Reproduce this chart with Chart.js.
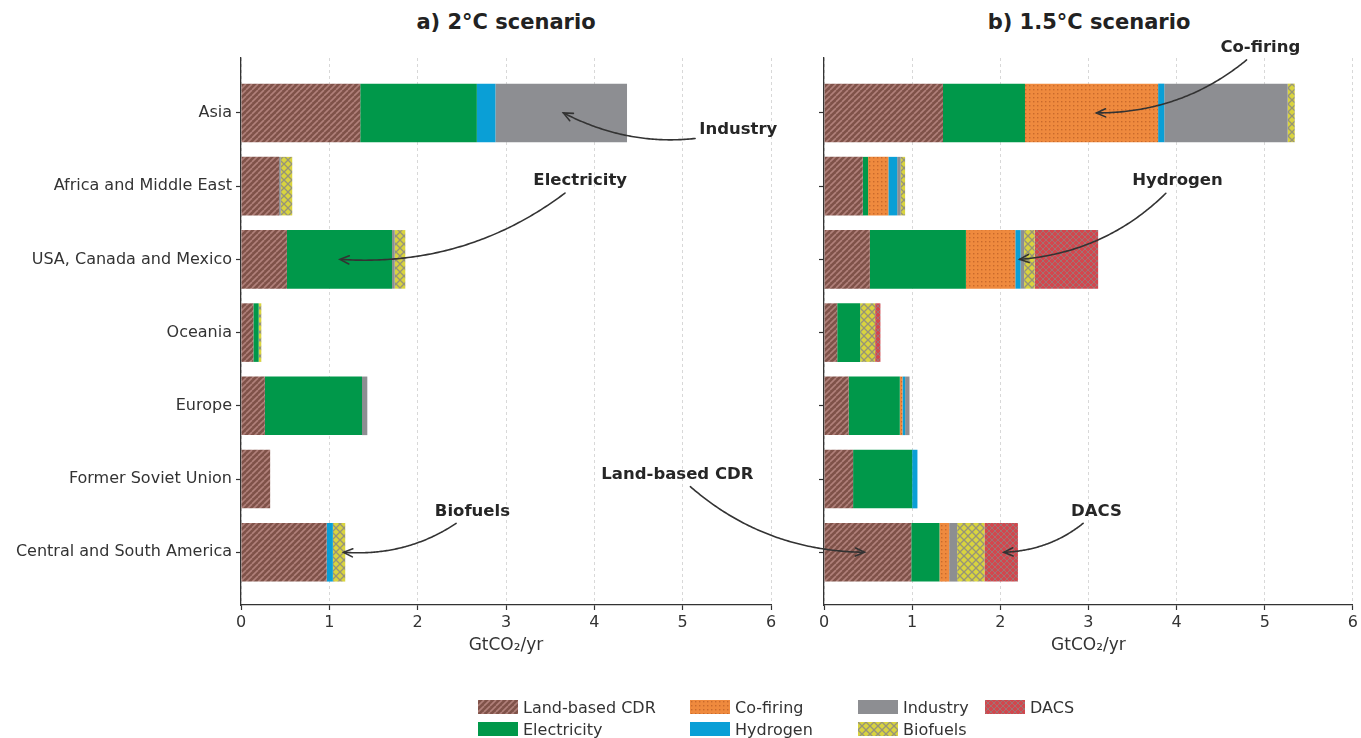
<!DOCTYPE html>
<html>
<head>
<meta charset="utf-8">
<script src="https://cdn.jsdelivr.net/npm/chart.js@4.4.1/dist/chart.umd.min.js"></script>
<style>
  html, body { margin: 0; padding: 0; background: #fff; }
  #fig { position: relative; width: 1361px; height: 738px; overflow: hidden; font-family: 'DejaVu Sans', sans-serif; background: #fff; }
  #fig > canvas { position: absolute; }
  .ptitle { position: absolute; top: 10px; line-height: 24px; font-weight: bold; font-size: 21px; color: #222; transform: translateX(-50%); white-space: nowrap; }
  #legend { position: absolute; left: 478px; top: 696px; display: grid; grid-template-columns: 212px 168px 127px auto; grid-template-rows: 22px 22px; grid-auto-flow: column; }
  .li { display: flex; align-items: center; font-size: 16px; color: #333; white-space: nowrap; }
  .li canvas { margin-right: 5px; }
</style>
</head>
<body>
<div id="fig">
  <div class="ptitle" style="left:506px">a) 2°C scenario</div>
  <div class="ptitle" style="left:1089px">b) 1.5°C scenario</div>
  <canvas id="cA" width="790" height="670" style="left:0;top:0"></canvas>
  <canvas id="cB" width="561" height="670" style="left:800px;top:0"></canvas>
  <canvas id="ov" width="1361" height="738" style="left:0;top:0;pointer-events:none"></canvas>
  <div id="legend"></div>
</div>
<script>
// Regions (top to bottom) and removal categories
const regions = ['Asia', 'Africa and Middle East', 'USA, Canada and Mexico', 'Oceania', 'Europe', 'Former Soviet Union', 'Central and South America'];
const seriesNames = ['Land-based CDR', 'Electricity', 'Co-firing', 'Hydrogen', 'Industry', 'Biofuels', 'DACS'];
const xTicks = [0, 1, 2, 3, 4, 5, 6];

// 2°C scenario, GtCO2/yr
const landCDR_2C     = [1.35, 0.43, 0.52, 0.14, 0.27, 0.33, 0.97];
const electricity_2C = [1.32, 0.00, 1.19, 0.06, 1.10, 0.00, 0.00];
const coFiring_2C    = [0.00, 0.00, 0.00, 0.00, 0.00, 0.00, 0.00];
const hydrogen_2C    = [0.21, 0.00, 0.00, 0.00, 0.00, 0.00, 0.07];
const industry_2C    = [1.49, 0.02, 0.03, 0.00, 0.06, 0.00, 0.00];
const biofuels_2C    = [0.00, 0.13, 0.12, 0.03, 0.00, 0.00, 0.14];
const dacs_2C        = [0.00, 0.00, 0.00, 0.00, 0.00, 0.00, 0.00];

// 1.5°C scenario, GtCO2/yr
const landCDR_15     = [1.35, 0.44, 0.52, 0.15, 0.28, 0.33, 0.99];
const electricity_15 = [0.93, 0.06, 1.09, 0.26, 0.58, 0.67, 0.32];
const coFiring_15    = [1.51, 0.23, 0.56, 0.00, 0.03, 0.00, 0.11];
const hydrogen_15    = [0.07, 0.10, 0.06, 0.00, 0.03, 0.06, 0.00];
const industry_15    = [1.40, 0.04, 0.04, 0.00, 0.05, 0.00, 0.09];
const biofuels_15    = [0.08, 0.05, 0.12, 0.17, 0.00, 0.00, 0.31];
const dacs_15        = [0.00, 0.00, 0.72, 0.06, 0.00, 0.00, 0.38];

const values2C = [landCDR_2C, electricity_2C, coFiring_2C, hydrogen_2C, industry_2C, biofuels_2C, dacs_2C];
const values15 = [landCDR_15, electricity_15, coFiring_15, hydrogen_15, industry_15, biofuels_15, dacs_15];

// ---- fill patterns for the categories ----
function makeTile(kind) {
  const c = document.createElement('canvas');
  const g = c.getContext('2d');
  const fill = (s, col) => { c.width = c.height = s; g.fillStyle = col; g.fillRect(0, 0, s, s); return s; };
  if (kind === 'hatch') {
    const s = fill(6, '#7f5249');
    g.strokeStyle = '#b0807a'; g.lineWidth = 1.6;
    for (const k of [-s, 0, s]) { g.beginPath(); g.moveTo(k, s); g.lineTo(k + s, 0); g.stroke(); }
  } else if (kind === 'dots') {
    fill(4, '#ef8a3e');
    g.fillStyle = '#c9692c'; g.fillRect(1, 1, 1.4, 1.4);
  } else if (kind === 'cross') {
    const s = fill(8, '#d9d43e');
    g.strokeStyle = '#979479'; g.lineWidth = 1.3;
    for (const k of [-s, 0, s]) {
      g.beginPath(); g.moveTo(k, s); g.lineTo(k + s, 0); g.stroke();
      g.beginPath(); g.moveTo(k, 0); g.lineTo(k + s, s); g.stroke();
    }
  } else if (kind === 'finecross') {
    const s = fill(6, '#d2474e');
    g.strokeStyle = '#a07474'; g.lineWidth = 1;
    for (const k of [-s, 0, s]) {
      g.beginPath(); g.moveTo(k, s); g.lineTo(k + s, 0); g.stroke();
      g.beginPath(); g.moveTo(k, 0); g.lineTo(k + s, s); g.stroke();
    }
  }
  return c;
}
const ctxProbe = document.createElement('canvas').getContext('2d');
const styles = [
  ctxProbe.createPattern(makeTile('hatch'), 'repeat'),
  '#00984a',
  ctxProbe.createPattern(makeTile('dots'), 'repeat'),
  '#0a9fd6',
  '#8d8e92',
  ctxProbe.createPattern(makeTile('cross'), 'repeat'),
  ctxProbe.createPattern(makeTile('finecross'), 'repeat')
];

Chart.defaults.font.family = "'DejaVu Sans', sans-serif";
Chart.defaults.font.size = 16;
Chart.defaults.color = '#333';

function buildDatasets(values) {
  return seriesNames.map((name, s) => ({
    label: name,
    data: regions.map((r, i) => ({ x: values[s][i], y: i })),
    backgroundColor: styles[s],
    borderWidth: 0,
    barPercentage: 0.8,
    categoryPercentage: 1.0
  }));
}

function buildOptions(showLabels, yWidth, rightPad) {
  return {
    indexAxis: 'y',
    responsive: false,
    animation: false,
    layout: { padding: { top: 58, right: rightPad, left: 0, bottom: 0 } },
    plugins: { legend: { display: false }, tooltip: { enabled: false } },
    scales: {
      x: {
        type: 'linear', stacked: true, min: 0, max: 6,
        afterBuildTicks: (sc) => { sc.ticks = xTicks.map(v => ({ value: v })); },
        afterFit: (sc) => { sc.height = 670 - 605; },
        ticks: { padding: 3, font: { size: 16 }, color: '#333' },
        grid: { color: '#d8d8d8', lineWidth: 1, tickLength: 5, tickColor: '#333', tickWidth: 1.2, tickBorderDash: [] },
        border: { display: true, color: '#333', width: 1.3, dash: [3, 3] },
        title: { display: true, text: 'GtCO₂/yr', font: { size: 17 }, color: '#333', padding: { top: 2, bottom: 14 } }
      },
      y: {
        type: 'linear', stacked: true, reverse: true, min: -0.75, max: 6.72, offset: false,
        afterBuildTicks: (sc) => { sc.ticks = regions.map((r, i) => ({ value: i })); },
        afterFit: (sc) => { sc.width = yWidth; },
        ticks: { autoSkip: false, padding: 4, font: { size: 16 }, color: '#333',
                 callback: (v) => showLabels ? regions[v] : '' },
        grid: { offset: false, drawOnChartArea: false, tickLength: 5, tickColor: '#333', tickWidth: 1.2 },
        border: { display: true, color: '#333', width: 1.3 }
      }
    }
  };
}

const chartA = new Chart(document.getElementById('cA'), {
  type: 'bar',
  data: { datasets: buildDatasets(values2C) },
  options: buildOptions(true, 241, 19)
});
const chartB = new Chart(document.getElementById('cB'), {
  type: 'bar',
  data: { datasets: buildDatasets(values15) },
  options: buildOptions(false, 24, 7)
});

// ---- callouts: text and curved arrow, positioned in data units of each panel ----
const panels = { a: { chart: chartA, left: 0 }, b: { chart: chartB, left: 800 } };
const callouts = [
  { text: 'Industry',       tp: 'a', tx: 5.63, ty: 0.23,  ap: 'a', ax: 3.65, ay: 0,   rad: -0.2 },
  { text: 'Electricity',    tp: 'a', tx: 3.84, ty: 0.93,  ap: 'a', ax: 1.12, ay: 2,   rad: -0.2 },
  { text: 'Biofuels',       tp: 'a', tx: 2.62, ty: 5.44,  ap: 'a', ax: 1.16, ay: 6,   rad: -0.2 },
  { text: 'Land-based CDR', tp: 'a', tx: 4.94, ty: 4.94,  ap: 'b', ax: 0.46, ay: 6,   rad: 0.2 },
  { text: 'Co-firing',      tp: 'b', tx: 4.95, ty: -0.89, ap: 'b', ax: 3.09, ay: 0,   rad: -0.2 },
  { text: 'Hydrogen',       tp: 'b', tx: 4.01, ty: 0.93,  ap: 'b', ax: 2.22, ay: 2,   rad: -0.2 },
  { text: 'DACS',           tp: 'b', tx: 3.09, ty: 5.44,  ap: 'b', ax: 2.04, ay: 6,   rad: -0.2 }
];

function toPixel(p, x, y) {
  const c = panels[p].chart;
  return [c.scales.x.getPixelForValue(x) + panels[p].left, c.scales.y.getPixelForValue(y)];
}

function drawCallouts() {
  const ctx = document.getElementById('ov').getContext('2d');
  ctx.font = "bold 16.5px 'DejaVu Sans', sans-serif";
  ctx.textAlign = 'center';
  ctx.textBaseline = 'middle';
  for (const a of callouts) {
    const [tx, ty] = toPixel(a.tp, a.tx, a.ty);
    const [px, py] = toPixel(a.ap, a.ax, a.ay);
    const mx = (tx + px) / 2, my = (ty + py) / 2, dx = px - tx, dy = py - ty;
    const cx = mx - a.rad * dy, cy = my + a.rad * dx;
    const B = (t) => [
      (1 - t) * (1 - t) * tx + 2 * (1 - t) * t * cx + t * t * px,
      (1 - t) * (1 - t) * ty + 2 * (1 - t) * t * cy + t * t * py
    ];
    const hw = ctx.measureText(a.text).width / 2 + 4, hh = 12;
    let t0 = 0;
    for (let t = 0; t <= 1; t += 0.002) {
      const [x, y] = B(t);
      if (Math.abs(x - tx) > hw || Math.abs(y - ty) > hh) { t0 = t; break; }
    }
    ctx.strokeStyle = '#333';
    ctx.lineWidth = 1.6;
    ctx.lineCap = 'round';
    ctx.beginPath();
    for (let t = t0; t <= 1.0001; t += 0.01) {
      const [x, y] = B(Math.min(t, 1));
      if (t === t0) ctx.moveTo(x, y); else ctx.lineTo(x, y);
    }
    ctx.stroke();
    // open arrow head
    const [qx, qy] = B(0.96);
    const ang = Math.atan2(py - qy, px - qx);
    const L = 10, spread = 0.42;
    ctx.beginPath();
    ctx.moveTo(px - L * Math.cos(ang - spread), py - L * Math.sin(ang - spread));
    ctx.lineTo(px, py);
    ctx.lineTo(px - L * Math.cos(ang + spread), py - L * Math.sin(ang + spread));
    ctx.stroke();
    ctx.fillStyle = '#262626';
    ctx.fillText(a.text, tx, ty);
  }
}
drawCallouts();

// ---- legend, filled column by column ----
const legend = document.getElementById('legend');
seriesNames.forEach((name, s) => {
  const item = document.createElement('div');
  item.className = 'li';
  const sw = document.createElement('canvas');
  sw.width = 40; sw.height = 14;
  const g = sw.getContext('2d');
  g.fillStyle = styles[s];
  g.fillRect(0, 0, 40, 14);
  item.appendChild(sw);
  const label = document.createElement('span');
  label.textContent = name;
  item.appendChild(label);
  legend.appendChild(item);
});
</script>
</body>
</html>
